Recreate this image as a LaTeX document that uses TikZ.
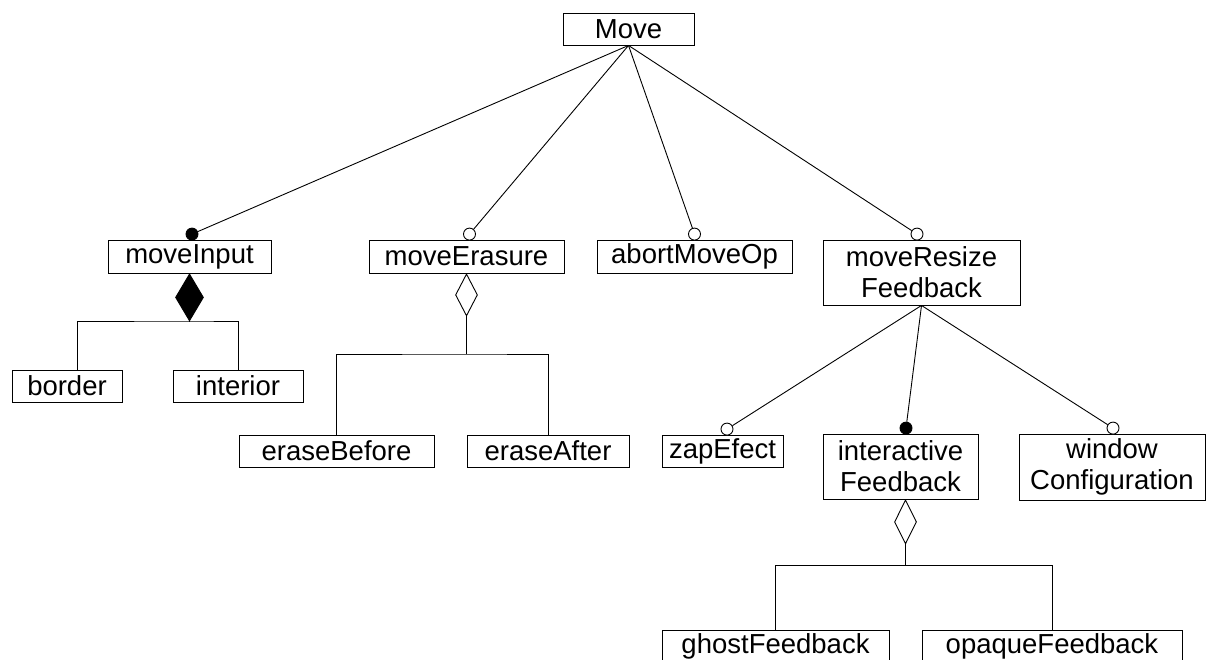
\documentclass[tikz,border=0pt]{standalone}
\usepackage{fontspec}
\setmainfont{Liberation Sans}
\usetikzlibrary{shapes.geometric,calc}
\tikzset{
  box/.style={draw=black, line width=0.9pt, inner sep=0pt, align=center,
    font=\fontsize{27.5}{31}\selectfont},
  conn/.style={draw=black, line width=0.9pt},
  opendot/.style={circle, draw=black, fill=white, line width=0.9pt, inner sep=0pt, minimum size=12pt},
  fulldot/.style={circle, draw=black, fill=black, line width=0.9pt, inner sep=0pt, minimum size=12pt},
  opendia/.style={diamond, draw=black, fill=white, line width=0.9pt, inner sep=0pt},
  fulldia/.style={diamond, draw=black, fill=black, line width=0.9pt, inner sep=0pt},
}
\begin{document}
\begin{tikzpicture}[x=1pt, y=-1pt]
\useasboundingbox (0,0) rectangle (1206,659);
\clip (0,0) rectangle (1206,659);
\fill[white] (0,0) rectangle (1206,659);

% boxes
\node[box, minimum width=131pt, minimum height=32pt] (move) at (628.5,29) {Move};
\node[box, minimum width=163pt, minimum height=33pt] (mi) at (189.5,256.5) {moveInput};
\node[box, minimum width=110pt, minimum height=32pt] (border) at (67,386) {border};
\node[box, minimum width=130pt, minimum height=32pt] (interior) at (238,386) {interior};
\node[box, minimum width=195pt, minimum height=33pt] (me) at (466.5,256.5) {moveErasure};
\node[box, minimum width=195pt, minimum height=32pt] (eb) at (336.5,451) {eraseBefore};
\node[box, minimum width=162pt, minimum height=32pt] (ea) at (548,451) {eraseAfter};
\node[box, minimum width=195pt, minimum height=33pt] (ab) at (694.5,256.5) {abortMoveOp};
\node[box, minimum width=197pt, minimum height=65pt] (mr) at (921.5,272.5) {moveResize\\Feedback};
\node[box, minimum width=121pt, minimum height=32pt] (zap) at (722.5,451) {zapEfect};
\node[box, minimum width=155pt, minimum height=65pt] (ifb) at (900.5,466.5) {interactive\\Feedback};
\node[box, minimum width=186pt, minimum height=66pt] (win) at (1112,467) {window\\Configuration};
\node[box, minimum width=227pt, minimum height=33pt] (ghost) at (775.5,646.5) {ghostFeedback};
\node[box, minimum width=260pt, minimum height=33pt] (opaque) at (1052,646.5) {opaqueFeedback};

% end markers
\node[fulldot, anchor=south] (dmi) at ([xshift=2.5pt,yshift=-1pt]mi.north) {};
\node[opendot, anchor=south] (cme) at ([xshift=3pt,yshift=-1pt]me.north) {};
\node[opendot, anchor=south] (cab) at ([yshift=-1pt]ab.north) {};
\node[opendot, anchor=south] (cmr) at ([xshift=-4.5pt,yshift=-1pt]mr.north) {};
\node[opendot, anchor=south] (czap) at ([xshift=4.5pt,yshift=-1pt]zap.north) {};
\node[fulldot, anchor=south] (difb) at ([xshift=5.5pt,yshift=-1pt]ifb.north) {};
\node[opendot, anchor=south] (cwin) at ([xshift=1pt,yshift=-1pt]win.north) {};

% connectors from Move
\draw[conn] (move.south) -- (dmi);
\draw[conn] (move.south) -- (cme);
\draw[conn] (move.south) -- (cab);
\draw[conn] (move.south) -- (cmr);

% connectors from moveResizeFeedback
\draw[conn] (mr.south) -- (czap);
\draw[conn] (mr.south) -- (difb);
\draw[conn] (mr.south) -- (cwin);

% aggregation: moveInput
\node[fulldia, anchor=north, minimum width=28pt, minimum height=47pt] (dia1) at (mi.south) {};
\coordinate (j1) at (189.5,321);
\draw[conn] (dia1.south) -- (j1);
\draw[conn] ([xshift=10pt]border.north) |- (j1) -| (interior.north);

% aggregation: moveErasure
\node[opendia, anchor=north, minimum width=22pt, minimum height=42pt] (dia2) at (me.south) {};
\coordinate (j2) at (466.5,354);
\draw[conn] (dia2.south) -- (j2);
\draw[conn] (eb.north) |- (j2) -| (ea.north);

% aggregation: interactiveFeedback
\node[opendia, anchor=north, minimum width=22pt, minimum height=44pt] (dia3) at ([xshift=5pt]ifb.south) {};
\coordinate (j3) at (905.5,565);
\draw[conn] (dia3.south) -- (j3);
\draw[conn] (ghost.north) |- (j3) -| (opaque.north);
\end{tikzpicture}
\end{document}
